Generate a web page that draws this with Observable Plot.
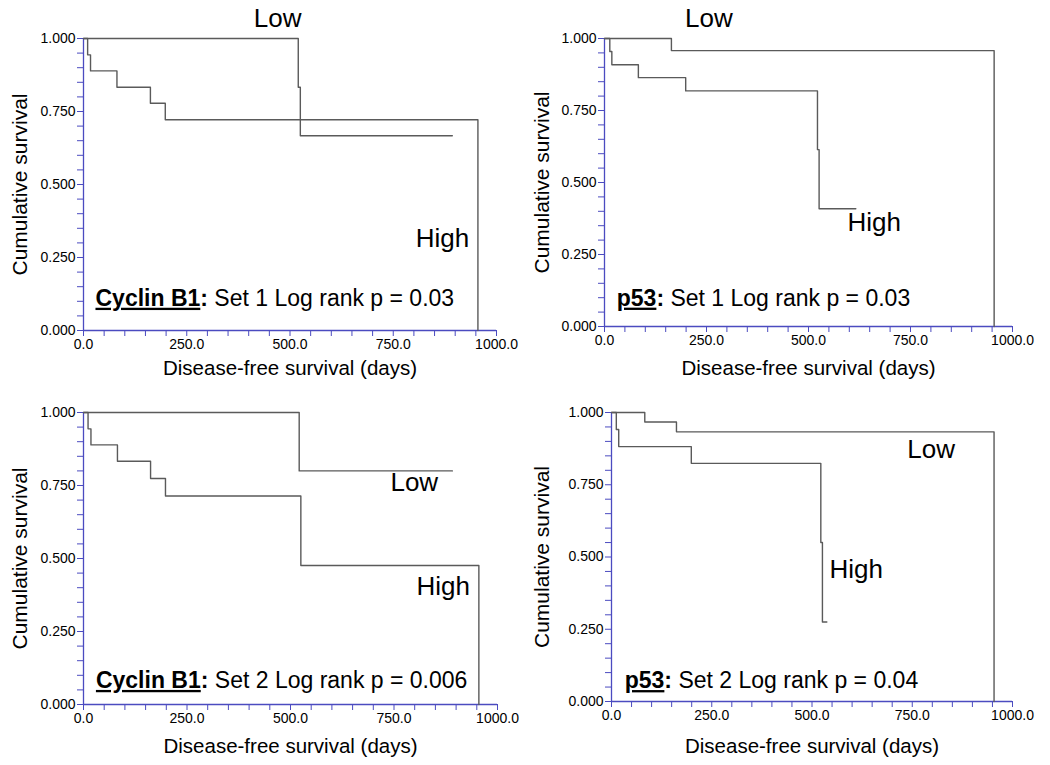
<!DOCTYPE html>
<html>
<head>
<meta charset="utf-8">
<script src="https://cdn.jsdelivr.net/npm/d3@7"></script>
<script src="https://cdn.jsdelivr.net/npm/@observablehq/plot@0.6"></script>
<style>
  html, body { margin: 0; padding: 0; background: #fff; }
  #wrap { position: relative; width: 1050px; height: 765px; overflow: hidden; font-family: "Liberation Sans", Arial, sans-serif; }
  .panel { position: absolute; }
</style>
</head>
<body>
<div id="wrap"></div>
<script>
// ---------- Data ----------
// Panel A: Cyclin B1, Set 1
const cb1s1LowDays   = [0, 520, 525, 893];
const cb1s1LowSurv   = [1.000, 0.833, 0.667, 0.667];
const cb1s1HighDays  = [0, 10, 17, 81, 162, 198, 955];
const cb1s1HighSurv  = [1.000, 0.944, 0.889, 0.833, 0.778, 0.722, 0.000];

// Panel B: p53, Set 1
const p53s1LowDays   = [0, 164, 955];
const p53s1LowSurv   = [1.000, 0.958, 0.000];
const p53s1HighDays  = [0, 13, 18, 83, 199, 522, 526, 616];
const p53s1HighSurv  = [1.000, 0.955, 0.909, 0.864, 0.818, 0.614, 0.409, 0.409];

// Panel C: Cyclin B1, Set 2
const cb1s2LowDays   = [0, 521, 891];
const cb1s2LowSurv   = [1.000, 0.800, 0.800];
const cb1s2HighDays  = [0, 11, 18, 82, 162, 198, 525, 955];
const cb1s2HighSurv  = [1.000, 0.944, 0.889, 0.833, 0.774, 0.714, 0.476, 0.000];

// Panel D: p53, Set 2
const p53s2LowDays   = [0, 83, 162, 954];
const p53s2LowSurv   = [1.000, 0.967, 0.933, 0.000];
const p53s2HighDays  = [0, 12, 18, 199, 522, 526, 537];
const p53s2HighSurv  = [1.000, 0.941, 0.882, 0.824, 0.550, 0.275, 0.275];

// Axis ticks and labels
const xTicks = d3.range(0, 1001, 50);       // minor ticks every 50 days
const xLabelEvery = 250;
const yTicks = d3.range(0, 21).map(i => i / 20); // minor ticks every 0.05
const xTitle = "Disease-free survival (days)";
const yTitle = "Cumulative survival";

// Annotations: [gene, rest-of-text]
const annotations = [
  ["Cyclin B1", "Set 1 Log rank p = 0.03"],
  ["p53", "Set 1 Log rank p = 0.03"],
  ["Cyclin B1", "Set 2 Log rank p = 0.006"],
  ["p53", "Set 2 Log rank p = 0.04"]
];
// Group label positions in data coordinates [days, survival]
const lowLabelPos  = [[470, 1.068], [256, 1.068], [799, 0.761], [797, 0.871]];
const highLabelPos = [[869, 0.315], [661, 0.362], [869, 0.402], [610, 0.456]];
const annotPos     = [[29, 0.110], [30, 0.098], [30, 0.082], [33, 0.072]];

// ---------- Layout ----------
const AXIS = "#4b4bc0";
const LINE = "#5a5a5a";
const FONT = "Liberation Sans, Arial, sans-serif";

const panels = [
  {left: 0,   top: 0,   w: 525, h: 385, m: [38, 29, 55, 83], low: [cb1s1LowDays, cb1s1LowSurv], high: [cb1s1HighDays, cb1s1HighSurv], yOff: -63, xOff: 38},
  {left: 525, top: 0,   w: 525, h: 385, m: [38, 38, 59, 79], low: [p53s1LowDays, p53s1LowSurv], high: [p53s1HighDays, p53s1HighSurv], yOff: -62, xOff: 42},
  {left: 0,   top: 385, w: 525, h: 380, m: [27, 28, 61, 83], low: [cb1s2LowDays, cb1s2LowSurv], high: [cb1s2HighDays, cb1s2HighSurv], yOff: -63, xOff: 42},
  {left: 525, top: 385, w: 525, h: 380, m: [27, 38, 64, 86], low: [p53s2LowDays, p53s2LowSurv], high: [p53s2HighDays, p53s2HighSurv], yOff: -69, xOff: 45}
];

const toRows = ([days, surv]) => days.map((d, i) => ({t: d, s: surv[i]}));

const wrap = document.getElementById("wrap");

panels.forEach((p, k) => {
  const [mt, mr, mb, ml] = p.m;
  const svg = Plot.plot({
    width: p.w, height: p.h,
    marginTop: mt, marginRight: mr, marginBottom: mb, marginLeft: ml,
    style: {fontFamily: FONT, background: "transparent", overflow: "visible"},
    x: {domain: [0, 1000]},
    y: {domain: [0, 1]},
    marks: [
      Plot.axisX({
        ticks: xTicks, tickSize: 6, tickPadding: 3, stroke: AXIS, fill: "black",
        fontSize: 14, label: null,
        tickFormat: d => (d % xLabelEvery === 0 ? d.toFixed(1) : "")
      }),
      Plot.axisY({
        ticks: yTicks, tickSize: 6, tickPadding: 2, stroke: AXIS, fill: "black",
        fontSize: 14, label: null,
        tickFormat: d => (Math.round(d * 20) % 5 === 0 ? d.toFixed(3) : "")
      }),
      Plot.ruleY([0], {stroke: AXIS, strokeWidth: 1.3}),
      Plot.ruleX([0], {stroke: AXIS, strokeWidth: 1.3}),
      Plot.line(toRows(p.low),  {x: "t", y: "s", curve: "step-after", stroke: LINE, strokeWidth: 1.4}),
      Plot.line(toRows(p.high), {x: "t", y: "s", curve: "step-after", stroke: LINE, strokeWidth: 1.4}),
      Plot.text(["Low"],  {x: lowLabelPos[k][0],  y: lowLabelPos[k][1],  fontSize: 26, fill: "black"}),
      Plot.text(["High"], {x: highLabelPos[k][0], y: highLabelPos[k][1], fontSize: 26, fill: "black"}),
      Plot.text([annotations[k][0] + ": " + annotations[k][1]], {
        x: annotPos[k][0], y: annotPos[k][1], textAnchor: "start", fontSize: 23, fill: "black"
      }),
      Plot.text([yTitle], {frameAnchor: "left", textAnchor: "middle", lineAnchor: "middle", dx: p.yOff, rotate: -90, fontSize: 21, fill: "black"}),
      Plot.text([xTitle], {frameAnchor: "bottom", textAnchor: "middle", lineAnchor: "middle", dy: p.xOff, fontSize: 20.5, fill: "black"})
    ]
  });
  // Style the gene name as bold + underlined within the annotation text
  const gene = annotations[k][0];
  d3.select(svg).selectAll("text").each(function() {
    const el = d3.select(this);
    const txt = this.textContent;
    if (txt === gene + ": " + annotations[k][1] && this.children.length === 0) {
      el.text(null);
      el.append("tspan").attr("font-weight", "bold").attr("text-decoration", "underline").text(gene);
      el.append("tspan").attr("font-weight", "bold").text(":");
      el.append("tspan").text(" " + annotations[k][1]);
    }
  });
  const div = document.createElement("div");
  div.className = "panel";
  div.style.left = p.left + "px";
  div.style.top = p.top + "px";
  div.appendChild(svg);
  wrap.appendChild(div);
});
</script>
</body>
</html>
